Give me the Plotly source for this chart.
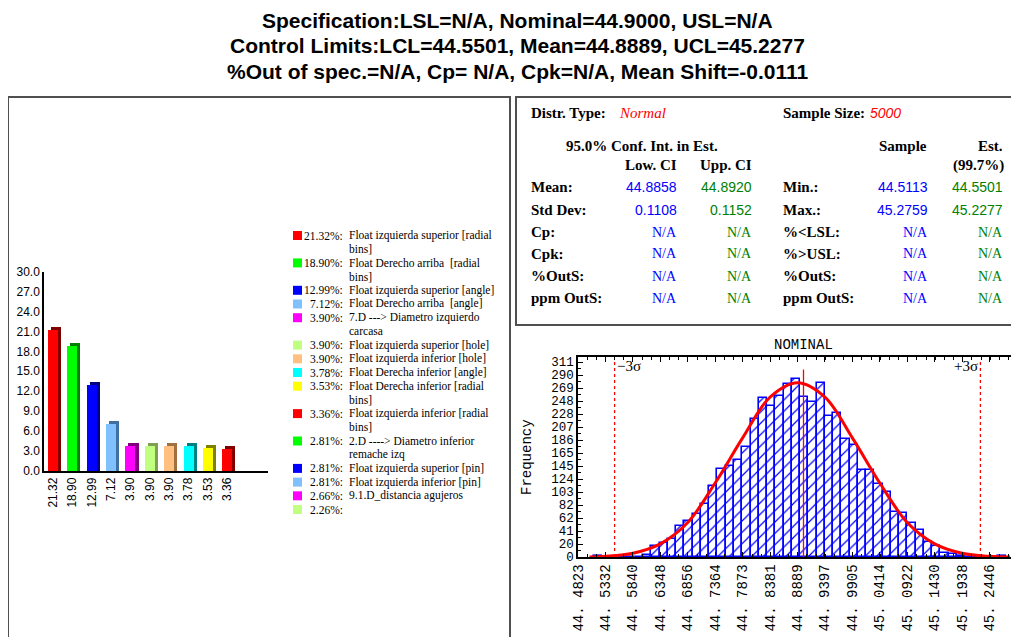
import plotly.graph_objects as go

W, H = 1019, 637
OFF = 8  # page body margin offset

# ---------------- data ----------------
title_lines = [
    "Specification:LSL=N/A, Nominal=44.9000, USL=N/A",
    "Control Limits:LCL=44.5501, Mean=44.8889, UCL=45.2277",
    "%Out of spec.=N/A, Cp= N/A, Cpk=N/A, Mean Shift=-0.0111",
]

pareto_values = [21.32, 18.90, 12.99, 7.12, 3.90, 3.90, 3.90, 3.78, 3.53, 3.36]
pareto_labels = ["21.32", "18.90", "12.99", "7.12", "3.90", "3.90", "3.90", "3.78", "3.53", "3.36"]

palette = ["#FF0000", "#00FF00", "#0000FF", "#80C0FF", "#FF00FF",
           "#C0FF80", "#FFC080", "#00FFFF", "#FFFF00"]
palette_dark = ["#800000", "#008000", "#000080", "#4070A0", "#800080",
                "#80A050", "#A07040", "#008080", "#808000"]

legend_pcts = [21.32, 18.90, 12.99, 7.12, 3.90, 3.90, 3.90, 3.78, 3.53, 3.36,
               2.81, 2.81, 2.81, 2.66, 2.26]
legend_names = [
    "Float izquierda superior [radial\nbins]",
    "Float Derecho arriba  [radial\nbins]",
    "Float izquierda superior [angle]",
    "Float Derecho arriba  [angle]",
    "7.D ---> Diametro izquierdo\ncarcasa",
    "Float izquierda superior [hole]",
    "Float izquierda inferior [hole]",
    "Float Derecha inferior [angle]",
    "Float Derecha inferior [radial\nbins]",
    "Float izquierda inferior [radial\nbins]",
    "2.D ----> Diametro inferior\nremache izq",
    "Float izquierda superior [pin]",
    "Float izquierda inferior [pin]",
    "9.1.D_distancia agujeros",
    "",
]

distr_type = "Normal"
sample_size = "5000"
left_row_labels = ["Mean:", "Std Dev:", "Cp:", "Cpk:", "%OutS:", "ppm OutS:"]
low_ci = ["44.8858", "0.1108", "N/A", "N/A", "N/A", "N/A"]
upp_ci = ["44.8920", "0.1152", "N/A", "N/A", "N/A", "N/A"]
right_row_labels = ["Min.:", "Max.:", "%<LSL:", "%>USL:", "%OutS:", "ppm OutS:"]
sample_vals = ["44.5113", "45.2759", "N/A", "N/A", "N/A", "N/A"]
est_vals = ["44.5501", "45.2277", "N/A", "N/A", "N/A", "N/A"]

# histogram
sample_min = 44.5113
sample_max = 45.2759
hist_counts = [1, 0, 0, 1, 0, 0, 3, 18, 23, 28,
               50, 57, 68, 85, 114, 141, 145, 154, 176, 220,
               253, 241, 257, 276, 284, 256, 248, 277, 225, 229,
               189, 179, 138, 139, 116, 103, 71, 70, 54, 43,
               24, 17, 7, 4, 2, 0, 0, 0, 0, 1]
curve_x = [44.5035, 44.5332, 44.5840, 44.6348, 44.6856, 44.7364, 44.7873, 44.8381,
           44.8889, 44.9397, 44.9905, 45.0414, 45.0922, 45.1430, 45.1938, 45.2446, 45.2824]
curve_y = [0, 1, 6, 21, 55, 118, 190, 255, 278, 255, 190, 118, 55, 21, 6, 1, 0]

hist_xticks = [44.4823, 44.5332, 44.5840, 44.6348, 44.6856, 44.7364, 44.7873, 44.8381,
               44.8889, 44.9397, 44.9905, 45.0414, 45.0922, 45.1430, 45.1938, 45.2446, 45.2955]
hist_xticklabels = ["44. 4823", "44. 5332", "44. 5840", "44. 6348", "44. 6856", "44. 7364",
                    "44. 7873", "44. 8381", "44. 8889", "44. 9397", "44. 9905", "45. 0414",
                    "45. 0922", "45. 1430", "45. 1938", "45. 2446", "45. 2955"]
hist_ymax_label = 311
hist_yticklabels = ["0", "20", "41", "62", "82", "103", "124", "145", "165", "186",
                    "207", "228", "248", "269", "290", "311"]
nominal = 44.9000
lcl = 44.5501
ucl = 45.2277

# ---------------- helpers ----------------
def px(x):
    return (x - OFF) / W


def py(y):
    return 1 - (y - OFF) / H


SERIF = "Liberation Serif, Times New Roman, serif"
SANS = "Liberation Sans, Arial, sans-serif"
MONO = "Liberation Mono, Courier New, monospace"

fig = go.Figure()

# ---------------- pareto bars (3D look) ----------------
n = len(pareto_values)
idx = list(range(n))
bar_cols = [palette[i % len(palette)] for i in idx]
bar_dark = [palette_dark[i % len(palette_dark)] for i in idx]
fig.add_trace(go.Bar(x=idx, y=[v + 0.45 for v in pareto_values], width=0.52, offset=-0.10,
                     marker=dict(color=bar_dark, line=dict(width=0)),
                     xaxis="x", yaxis="y", hoverinfo="skip", showlegend=False))
fig.add_trace(go.Bar(x=idx, y=pareto_values, width=0.52, offset=-0.26,
                     marker=dict(color=bar_cols, line=dict(width=0)),
                     xaxis="x", yaxis="y", showlegend=False))

# ---------------- histogram ----------------
nb = len(hist_counts)
bw = (sample_max - sample_min) / nb
centers = [sample_min + bw * (k + 0.5) for k in range(nb)]
fig.add_trace(go.Bar(x=centers, y=hist_counts, width=bw,
                     marker=dict(color="white",
                                 pattern=dict(shape="/", fgcolor="#0000FF", bgcolor="white",
                                              size=8, solidity=0.15),
                                 line=dict(color="#0000FF", width=1.6)),
                     xaxis="x2", yaxis="y2", showlegend=False))
fig.add_trace(go.Scatter(x=curve_x, y=curve_y, mode="lines",
                         line=dict(color="#FF0000", width=3, shape="spline"),
                         xaxis="x2", yaxis="y2", showlegend=False))

shapes = []
annotations = []

# reference lines
for xv, solid, top in [(lcl, False, 311), (ucl, False, 311), (nominal, True, 299)]:
    shapes.append(dict(type="line", xref="x2", yref="y2", x0=xv, x1=xv, y0=0, y1=top,
                       line=dict(color="#FF0000", width=1.3, dash="solid" if solid else "dot")))
annotations.append(dict(x=lcl, y=304, xref="x2", yref="y2", text="\u22123\u03c3", showarrow=False,
                        xanchor="left", yanchor="middle", font=dict(family=SERIF, size=15, color="black")))
annotations.append(dict(x=ucl, y=304, xref="x2", yref="y2", text="+3\u03c3", showarrow=False,
                        xanchor="right", yanchor="middle", font=dict(family=SERIF, size=15, color="black")))

# panel boxes
shapes.append(dict(type="rect", xref="paper", yref="paper", x0=px(8), x1=px(510), y0=py(645), y1=py(97),
                   line=dict(color="#505050", width=2)))
shapes.append(dict(type="rect", xref="paper", yref="paper", x0=px(516), x1=px(1017), y0=py(325), y1=py(97),
                   line=dict(color="#505050", width=2)))

# titles
for i, t in enumerate(title_lines):
    annotations.append(dict(x=px(517), y=py(20 + 26 * i), xref="paper", yref="paper", text="<b>%s</b>" % t,
                            showarrow=False, xanchor="center", yanchor="middle",
                            font=dict(family=SANS, size=21, color="black")))

# legend
line_h = 13.7
y0 = 235.5
lines_before = 0
for i, (p, name) in enumerate(zip(legend_pcts, legend_names)):
    yc = y0 + line_h * lines_before
    col = palette[i % len(palette)]
    shapes.append(dict(type="rect", xref="paper", yref="paper", x0=px(293), x1=px(302),
                       y0=py(yc + 4.5), y1=py(yc - 4.5), fillcolor=col, line=dict(width=0)))
    annotations.append(dict(x=px(345), y=py(yc), xref="paper", yref="paper", text="%.2f%%:" % p,
                            showarrow=False, xanchor="right", yanchor="middle",
                            font=dict(family=SERIF, size=11.5, color="black")))
    parts = name.split("\n") if name else []
    for j, part in enumerate(parts):
        annotations.append(dict(x=px(347), y=py(yc + line_h * j), xref="paper", yref="paper",
                                text=part.replace("  ", "&nbsp; "), showarrow=False, xanchor="left",
                                yanchor="middle", font=dict(family=SERIF, size=11.5, color="black")))
    lines_before += max(1, len(parts))


# table
def tb(x, y, text, anchor="left", family=SERIF, size=15, color="black", bold=True, italic=False):
    t = text
    if bold:
        t = "<b>%s</b>" % t
    if italic:
        t = "<i>%s</i>" % t
    annotations.append(dict(x=px(x), y=py(y), xref="paper", yref="paper", text=t, showarrow=False,
                            xanchor=anchor, yanchor="middle", font=dict(family=family, size=size, color=color)))


tb(529, 113, "Distr. Type:")
tb(617, 113, distr_type, family=SERIF, size=15, color="#FF0000", bold=False, italic=True)
tb(781, 113, "Sample Size:")
tb(868, 113, sample_size, family=SANS, size=14, color="#FF0000", bold=False, italic=True)
tb(642, 146, "95.0% Conf. Int. in Est.", anchor="center")
tb(679, 165, "Low. CI", anchor="right")
tb(754, 165, "Upp. CI", anchor="right")
tb(929, 146, "Sample", anchor="right")
tb(1005, 146, "Est.", anchor="right")
tb(1006, 166, "(99.7%)", anchor="right")

row_y = [187, 210, 232, 254, 276, 298]
for i, yv in enumerate(row_y):
    tb(529, yv, left_row_labels[i])
    tb(781, yv, right_row_labels[i])
    for xv, val, col in [(679, low_ci[i], "#0000FF"), (754, upp_ci[i], "#008000"),
                         (930, sample_vals[i], "#0000FF"), (1005, est_vals[i], "#008000")]:
        if val == "N/A":
            tb(xv, yv, val, anchor="right", family=SERIF, size=14, color=col, bold=False)
        else:
            tb(xv, yv, val, anchor="right", family=SANS, size=14, color=col, bold=False)

# histogram title and axis label
annotations.append(dict(x=px(803), y=py(345), xref="paper", yref="paper", text="NOMINAL", showarrow=False,
                        xanchor="center", yanchor="middle", font=dict(family=MONO, size=14, color="black")))
annotations.append(dict(x=px(527), y=py(457), xref="paper", yref="paper", text="Frequency", showarrow=False,
                        textangle=-90, xanchor="center", yanchor="middle",
                        font=dict(family=MONO, size=14, color="black")))

hist_yticks = [hist_ymax_label * k / (len(hist_yticklabels) - 1) for k in range(len(hist_yticklabels))]

fig.update_layout(
    template="none",
    width=W, height=H, autosize=False,
    margin=dict(l=0, r=0, t=0, b=0, pad=0, autoexpand=False),
    paper_bgcolor="white", plot_bgcolor="white",
    barmode="overlay", bargap=0,
    showlegend=False,
    shapes=shapes, annotations=annotations,
    xaxis=dict(domain=[px(44), px(268)], range=[-0.46, 11.1], tickvals=idx, ticktext=pareto_labels,
               tickangle=-90, showline=True, linecolor="black", linewidth=1.5, showgrid=False,
               zeroline=False, ticks="", automargin=False,
               tickfont=dict(family=SANS, size=12, color="black"), fixedrange=True),
    yaxis=dict(domain=[py(471), py(271.5)], range=[0, 30], tick0=0, dtick=3, tickformat=".1f",
               showline=True, linecolor="black", linewidth=1.5, showgrid=False, zeroline=False,
               ticks="", automargin=False,
               tickfont=dict(family=SANS, size=12, color="black"), fixedrange=True),
    xaxis2=dict(domain=[px(578), px(1017)], range=[hist_xticks[0], hist_xticks[-1]], anchor="y2",
                tickvals=hist_xticks, ticktext=hist_xticklabels, tickangle=-90,
                showline=True, linecolor="black", linewidth=1.5, mirror="allticks",
                ticks="inside", ticklen=5, tickcolor="black", automargin=False,
                minor=dict(tick0=hist_xticks[0], dtick=(hist_xticks[1] - hist_xticks[0]) / 3,
                           ticks="inside", ticklen=3, tickcolor="black"),
                showgrid=False, zeroline=False, tickfont=dict(family=MONO, size=14, color="black")),
    yaxis2=dict(domain=[py(557), py(357)], range=[0, 319], anchor="x2",
                tickvals=hist_yticks, ticktext=hist_yticklabels,
                showline=True, linecolor="black", linewidth=1.5, mirror="allticks",
                ticks="inside", ticklen=5, tickcolor="black", automargin=False,
                minor=dict(tick0=0, dtick=hist_ymax_label / 30, ticks="inside", ticklen=3, tickcolor="black"),
                showgrid=False, zeroline=False, tickfont=dict(family=MONO, size=12.5, color="black")),
)

fig.write_html("out.html")
